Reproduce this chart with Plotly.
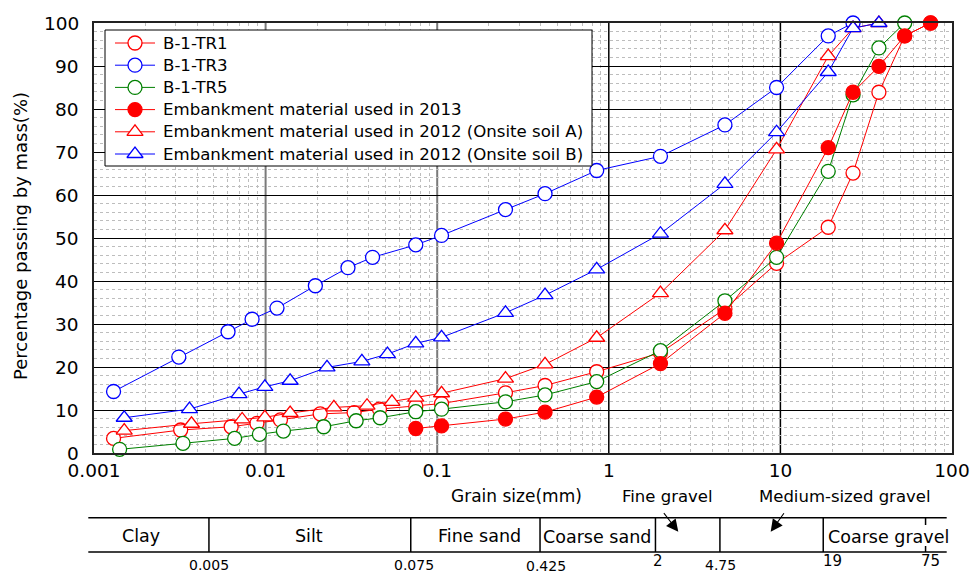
import math
import plotly.graph_objects as go

# ---------------- data ----------------
tr1_x = [0.0013, 0.0032, 0.0063, 0.0089, 0.0122, 0.0208, 0.0328, 0.0461, 0.075, 0.106,
         0.25, 0.425, 0.85, 2.0, 4.75, 9.5, 19, 26.5, 37.5, 53, 75]
tr1_y = [3.4, 5.35, 6.1, 6.9, 7.7, 9.1, 9.4, 10.2, 10.9, 11.5,
         14.0, 15.7, 18.9, 23.3, 33.5, 44.1, 52.5, 65.1, 83.9, 97.0, 100]

tr3_x = [0.0013, 0.00312, 0.00604, 0.00834, 0.01165, 0.0195, 0.0302, 0.042, 0.075, 0.106,
         0.25, 0.425, 0.85, 2.0, 4.75, 9.5, 19, 26.5]
tr3_y = [14.3, 22.3, 28.2, 31.1, 33.7, 38.9, 43.1, 45.5, 48.4, 50.6,
         56.6, 60.3, 65.7, 69.0, 76.3, 85.0, 97.0, 100]

tr5_x = [0.00141, 0.0033, 0.0066, 0.0092, 0.0127, 0.0218, 0.0337, 0.0465, 0.075, 0.106,
         0.25, 0.425, 0.85, 2.0, 4.75, 9.5, 19, 26.5, 37.5, 53]
tr5_y = [0.85, 2.25, 3.4, 4.35, 5.1, 6.1, 7.5, 8.2, 9.6, 10.2,
         11.9, 13.5, 16.6, 23.8, 35.4, 45.5, 65.5, 83.3, 94.2, 100]

emb2013_x = [0.075, 0.106, 0.25, 0.425, 0.85, 2.0, 4.75, 9.5, 19, 26.5, 37.5, 53, 75]
emb2013_y = [5.7, 6.3, 7.9, 9.5, 13.0, 20.8, 32.5, 48.8, 71.0, 83.9, 89.9, 97.0, 100]

soilA_x = [0.0015, 0.0037, 0.0073, 0.0099, 0.0139, 0.025, 0.039, 0.0545, 0.075, 0.106,
           0.25, 0.425, 0.85, 2.0, 4.75, 9.5, 19, 26.5, 37.5]
soilA_y = [5.2, 6.8, 7.8, 8.3, 9.3, 10.6, 11.0, 11.9, 12.9, 13.9,
           17.3, 20.6, 26.8, 37.2, 51.8, 70.6, 92.3, 98.8, 100]

soilB_x = [0.0015, 0.0036, 0.007, 0.0099, 0.0139, 0.0228, 0.0364, 0.0513, 0.075, 0.106,
           0.25, 0.425, 0.85, 2.0, 4.75, 9.5, 19, 26.5, 37.5]
soilB_y = [8.2, 10.2, 13.7, 15.4, 16.8, 19.9, 21.3, 23.0, 25.5, 26.9,
           32.6, 36.7, 42.7, 51.0, 62.6, 74.6, 88.6, 98.8, 100]

series_names = ["B-1-TR1", "B-1-TR3", "B-1-TR5",
                "Embankment material used in 2013",
                "Embankment material used in 2012 (Onsite soil A)",
                "Embankment material used in 2012 (Onsite soil B)"]

x_tick_vals = [0.001, 0.01, 0.1, 1, 10, 100]
x_tick_text = ["0.001", "0.01", "0.1", "1", "10", "100"]
y_tick_vals = [0, 10, 20, 30, 40, 50, 60, 70, 80, 90, 100]

class_bounds = [0.005, 0.075, 0.425, 2, 4.75, 19]
class_bound_labels = ["0.005", "0.075", "0.425", "2", "4.75", "19", "75"]
class_names = ["Clay", "Silt", "Fine sand", "Coarse sand", "Coarse gravel"]

# ---------------- styling / layout ----------------
FONT = "DejaVu Sans"
W, H = 973, 574
L, R, T, B = 94, 21, 23, 121
PW, PH = W - L - R, H - T - B


def pxx(x):  # page pixel -> paper x
    return (x - L) / PW


def pxy(y):  # page pixel -> paper y
    return (H - B - y) / PH


styles = [
    ("circle", "red", "white"),
    ("circle", "blue", "white"),
    ("circle", "green", "white"),
    ("circle", "red", "red"),
    ("triangle-up", "red", "white"),
    ("triangle-up", "blue", "white"),
]
data = [(tr1_x, tr1_y), (tr3_x, tr3_y), (tr5_x, tr5_y),
        (emb2013_x, emb2013_y), (soilA_x, soilA_y), (soilB_x, soilB_y)]

fig = go.Figure()
for name, (xs, ys), (sym, col, fill) in zip(series_names, data, styles):
    fig.add_trace(go.Scatter(
        x=xs, y=ys, mode="lines+markers", name=name,
        line=dict(color=col, width=1),
        marker=dict(symbol=sym, size=14, color=fill,
                    line=dict(color=col, width=1.3)),
        cliponaxis=False, showlegend=False,
    ))

# ---- legend drawn on an overlay axis measured in page pixels ----
LEG_BOX = (105, 30, 592, 166)
leg_rows = [43, 65.2, 87.4, 109.6, 131.8, 154]
x0b, y0b, x1b, y1b = LEG_BOX
fig.add_trace(go.Scatter(x=[x0b, x1b, x1b, x0b, x0b], y=[y0b, y0b, y1b, y1b, y0b],
                         mode="lines", fill="toself", fillcolor="white",
                         line=dict(color="black", width=1),
                         xaxis="x2", yaxis="y2", showlegend=False, hoverinfo="skip"))
annotations = []
for name, (sym, col, fill), yc in zip(series_names, styles, leg_rows):
    fig.add_trace(go.Scatter(x=[115, 155], y=[yc, yc], mode="lines",
                             line=dict(color=col, width=1), xaxis="x2", yaxis="y2",
                             showlegend=False, hoverinfo="skip"))
    fig.add_trace(go.Scatter(x=[135], y=[yc], mode="markers",
                             marker=dict(symbol=sym, size=14, color=fill,
                                         line=dict(color=col, width=1.3)),
                             xaxis="x2", yaxis="y2", showlegend=False, hoverinfo="skip"))
    annotations.append(dict(text=name, xref="x2", yref="y2", x=161, y=yc,
                            xanchor="left", yanchor="middle", showarrow=False,
                            font=dict(size=16.6)))

minor_x = [k * 10 ** n for n in range(-3, 2) for k in range(2, 10)]

fig.update_layout(
    template="none",
    width=W, height=H,
    margin=dict(l=L, r=R, t=T, b=B, autoexpand=False),
    paper_bgcolor="white", plot_bgcolor="white",
    font=dict(family=FONT, color="black", size=18),
    showlegend=False,
    xaxis=dict(type="log", range=[-3, 2], tickmode="array",
               tickvals=x_tick_vals, ticktext=x_tick_text, automargin=False,
               showgrid=False,
               showline=True, mirror=True, linecolor="#222", linewidth=2,
               ticks="", zeroline=False, tickfont=dict(size=18.5),
               minor=dict(tickmode="array", tickvals=minor_x, showgrid=True,
                          gridcolor="#bdbdbd", griddash="dot", gridwidth=1, ticks="")),
    yaxis=dict(range=[0, 100], tickmode="array", tickvals=y_tick_vals, automargin=False,
               showgrid=True, gridcolor="black", gridwidth=1, showticklabels=False,
               showline=True, mirror=True, linecolor="#222", linewidth=2,
               ticks="", zeroline=False,
               minor=dict(dtick=2, showgrid=True, gridcolor="#bdbdbd",
                          griddash="dot", gridwidth=1, ticks="")),
    xaxis2=dict(overlaying="x", range=[L, W - R], visible=False, anchor="y2",
                fixedrange=True, automargin=False),
    yaxis2=dict(overlaying="y", range=[H - B, T], visible=False, anchor="x2",
                fixedrange=True, automargin=False),
)

# major verticals: 0.01 and 0.1 darker grey, 1 and 10 black
for v, col, wd in [(0.01, "#7a7a7a", 2), (0.1, "#7a7a7a", 2), (1, "black", 1.5), (10, "black", 1.5)]:
    fig.add_shape(type="line", xref="x", yref="paper", x0=v, x1=v, y0=0, y1=1,
                  line=dict(color=col, width=wd), layer="below")

# y tick labels
for v in y_tick_vals:
    annotations.append(dict(text=str(v), xref="paper", yref="y", x=pxx(81), y=v,
                            xanchor="right", yanchor="middle", showarrow=False,
                            font=dict(size=18.5)))

# y title
annotations.append(dict(text="Percentage passing by mass(%)", xref="paper", yref="paper",
                        x=pxx(20), y=pxy(236), textangle=-90, showarrow=False,
                        font=dict(size=18), xanchor="center", yanchor="middle"))
# x title
annotations.append(dict(text="Grain size(mm)", xref="paper", yref="paper",
                        x=pxx(516), y=pxy(496), showarrow=False,
                        font=dict(size=17), xanchor="center", yanchor="middle"))

# ---- soil classification table below the chart ----
SHIFT = -5  # table drawn slightly left of the axis scale


def bound_x(v):
    return (math.log10(v) + 3) / 5 + SHIFT / PW


tbl_top, tbl_bot = pxy(517.7), pxy(552)
x_left, x_right = pxx(88.3), pxx(946.7)
for yy in (tbl_top, tbl_bot):
    fig.add_shape(type="line", xref="paper", yref="paper", x0=x_left, x1=x_right,
                  y0=yy, y1=yy, line=dict(color="black", width=1.5))
for v in class_bounds:
    bx = bound_x(v)
    fig.add_shape(type="line", xref="paper", yref="paper", x0=bx, x1=bx,
                  y0=tbl_bot, y1=tbl_top, line=dict(color="black", width=1.5))
bx75 = bound_x(75)
fig.add_shape(type="line", xref="paper", yref="paper", x0=bx75, x1=bx75,
              y0=tbl_top, y1=pxy(525), line=dict(color="black", width=1.5))
fig.add_shape(type="line", xref="paper", yref="paper", x0=bx75, x1=bx75,
              y0=pxy(546), y1=tbl_bot, line=dict(color="black", width=1.5))

name_pos = [(141, 536), (309, 536), (479, 536), (597, 537), (888, 537)]
for txt, (xx, yy) in zip(class_names, name_pos):
    annotations.append(dict(text=txt, xref="paper", yref="paper", x=pxx(xx), y=pxy(yy),
                            showarrow=False, font=dict(size=17.5),
                            xanchor="center", yanchor="middle"))

bl_pos = [(209, 565), (414, 565), (546, 566), (658, 561), (720, 565), (832, 561), (930, 561)]
bl_size = [14, 14, 14, 15, 14, 15, 15]
for txt, (xx, yy), sz in zip(class_bound_labels, bl_pos, bl_size):
    annotations.append(dict(text=txt, xref="paper", yref="paper", x=pxx(xx), y=pxy(yy),
                            showarrow=False, font=dict(size=sz),
                            xanchor="center", yanchor="middle"))

annotations.append(dict(text="Fine gravel", xref="paper", yref="paper",
                        x=pxx(667), y=pxy(497), showarrow=False, font=dict(size=16.5),
                        xanchor="center", yanchor="middle"))
annotations.append(dict(text="Medium-sized gravel", xref="paper", yref="paper",
                        x=pxx(845), y=pxy(497), showarrow=False, font=dict(size=16.5),
                        xanchor="center", yanchor="middle"))
# arrows
annotations.append(dict(text="", xref="paper", yref="paper", x=pxx(678.3), y=pxy(531.7),
                        ax=-15.6, ay=-20, axref="pixel", ayref="pixel",
                        showarrow=True, arrowhead=2, arrowsize=2.2, arrowwidth=1.1,
                        arrowcolor="black", standoff=0, startstandoff=0))
annotations.append(dict(text="", xref="paper", yref="paper", x=pxx(770.7), y=pxy(531.7),
                        ax=14.3, ay=-20, axref="pixel", ayref="pixel",
                        showarrow=True, arrowhead=2, arrowsize=2.2, arrowwidth=1.1,
                        arrowcolor="black", standoff=0, startstandoff=0))

fig.update_layout(annotations=annotations)
fig.write_html("out.html",
               config={"displayModeBar": False, "responsive": False},
               post_script="document.body.style.margin='0';document.body.style.padding='0';"
                           "document.body.style.overflow='hidden';")
